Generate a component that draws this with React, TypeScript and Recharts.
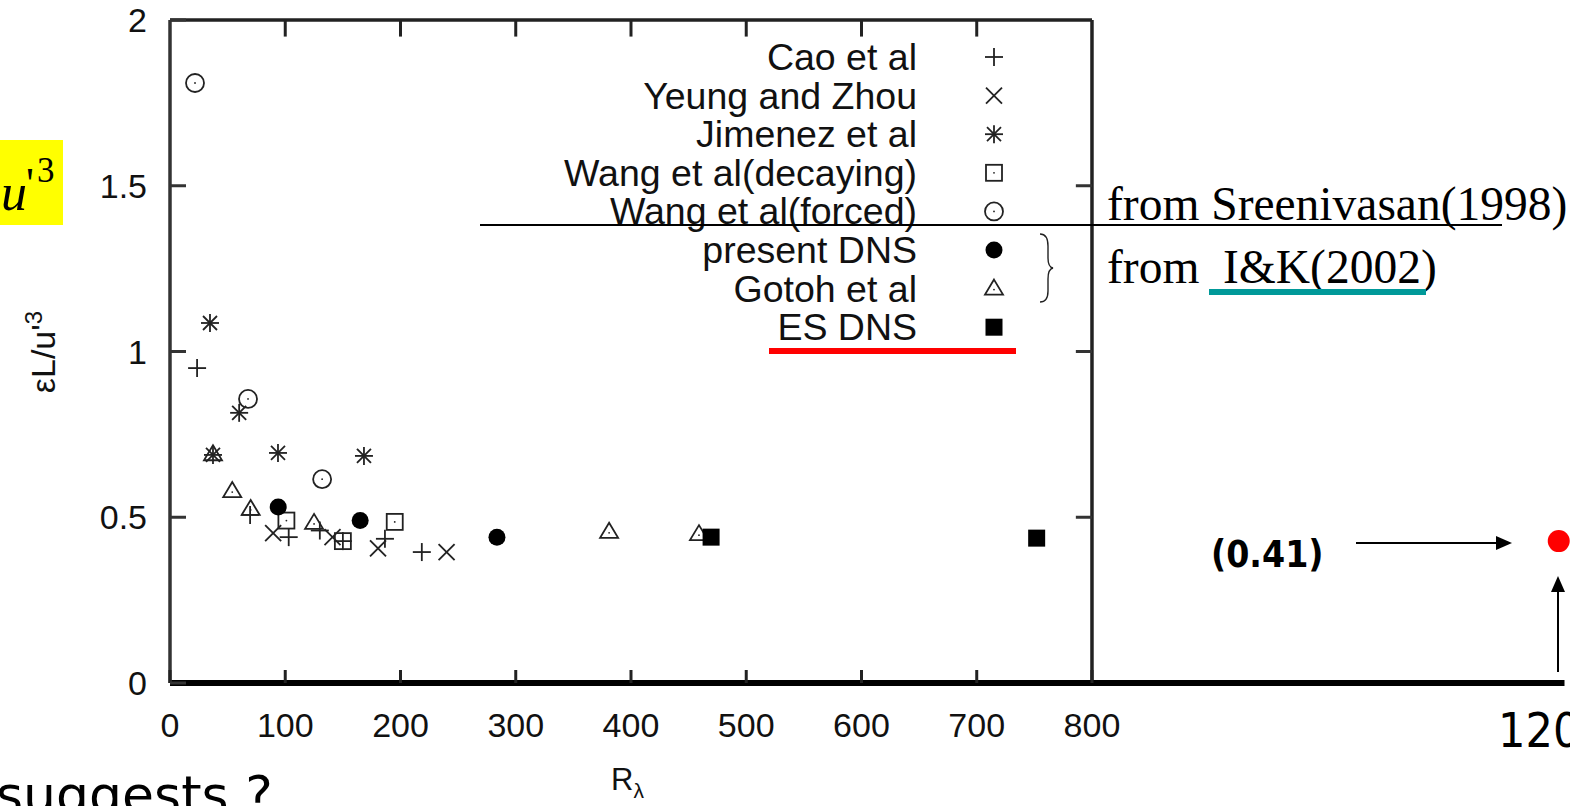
import React from "react";
import { Legend, ReferenceLine, Scatter, ScatterChart, XAxis, YAxis } from "recharts";

const W = 1570;
const H = 806;

const SANS = "'Liberation Sans', Arial, Helvetica, sans-serif";
const SERIF = "'Liberation Serif', 'Times New Roman', serif";
const VERD = "'DejaVu Sans', Verdana, sans-serif";
const COND = "'DejaVu Sans Condensed', 'DejaVu Sans', sans-serif";

// axis ticks
const xTicks = [0, 100, 200, 300, 400, 500, 600, 700, 800, 1200];
const yTicks = [0, 0.5, 1, 1.5, 2];
const topTicks = [100, 200, 300, 400, 500, 600, 700];
const rightTicks = [0.5, 1, 1.5];

// series
const caoX = [23.5, 69.5, 103, 130, 150, 186.5, 218.5];
const caoY = [0.95, 0.507, 0.44, 0.46, 0.428, 0.435, 0.395];

const yeungX = [89.5, 141, 180.5, 240];
const yeungY = [0.452, 0.44, 0.406, 0.395];

const jimenezX = [34.7, 60, 37.3, 93.7, 168.3];
const jimenezY = [1.086, 0.815, 0.688, 0.694, 0.685];

const wangDecX = [101, 150, 195];
const wangDecY = [0.49, 0.428, 0.486];

const wangForX = [21.7, 67.7, 132];
const wangForY = [1.81, 0.857, 0.615];

const presentX = [93.9, 165, 283.7];
const presentY = [0.531, 0.49, 0.44];

const gotohX = [37.3, 54, 70, 125, 381, 459];
const gotohY = [0.69, 0.579, 0.525, 0.483, 0.456, 0.449];

const esX = [469.5, 752];
const esY = [0.44, 0.437];

const earthX = [1205];
const earthY = [0.428];

type Kind = "plus" | "cross" | "star" | "square" | "circle" | "dot" | "triangle" | "block" | "red";

const series: { name: string; kind: Kind; xs: number[]; ys: number[] }[] = [
  { name: "Cao et al", kind: "plus", xs: caoX, ys: caoY },
  { name: "Yeung and Zhou", kind: "cross", xs: yeungX, ys: yeungY },
  { name: "Jimenez et al", kind: "star", xs: jimenezX, ys: jimenezY },
  { name: "Wang et al(decaying)", kind: "square", xs: wangDecX, ys: wangDecY },
  { name: "Wang et al(forced)", kind: "circle", xs: wangForX, ys: wangForY },
  { name: "present DNS", kind: "dot", xs: presentX, ys: presentY },
  { name: "Gotoh et al", kind: "triangle", xs: gotohX, ys: gotohY },
  { name: "ES DNS", kind: "block", xs: esX, ys: esY },
];

const toPoints = (xs: number[], ys: number[]) => xs.map((x, i) => ({ x, y: ys[i] }));

function marker(kind: Kind, cx: number, cy: number) {
  const c = "#222";
  const sw = 1.8;
  switch (kind) {
    case "plus":
      return (
        <g stroke={c} strokeWidth={sw}>
          <line x1={cx - 9} y1={cy} x2={cx + 9} y2={cy} />
          <line x1={cx} y1={cy - 9} x2={cx} y2={cy + 9} />
        </g>
      );
    case "cross":
      return (
        <g stroke={c} strokeWidth={sw}>
          <line x1={cx - 8} y1={cy - 8} x2={cx + 8} y2={cy + 8} />
          <line x1={cx - 8} y1={cy + 8} x2={cx + 8} y2={cy - 8} />
        </g>
      );
    case "star":
      return (
        <g stroke={c} strokeWidth={sw}>
          <line x1={cx - 9} y1={cy} x2={cx + 9} y2={cy} />
          <line x1={cx} y1={cy - 9} x2={cx} y2={cy + 9} />
          <line x1={cx - 7} y1={cy - 7} x2={cx + 7} y2={cy + 7} />
          <line x1={cx - 7} y1={cy + 7} x2={cx + 7} y2={cy - 7} />
        </g>
      );
    case "square":
      return (
        <g>
          <rect x={cx - 8} y={cy - 8} width={16} height={16} fill="none" stroke={c} strokeWidth={sw} />
          <circle cx={cx} cy={cy} r={0.9} fill={c} />
        </g>
      );
    case "circle":
      return (
        <g>
          <circle cx={cx} cy={cy} r={9} fill="none" stroke={c} strokeWidth={sw} />
          <circle cx={cx} cy={cy} r={0.9} fill={c} />
        </g>
      );
    case "dot":
      return <circle cx={cx} cy={cy} r={8.5} fill="#000" />;
    case "triangle":
      return (
        <g>
          <polygon
            points={`${cx},${cy - 9} ${cx + 9},${cy + 6} ${cx - 9},${cy + 6}`}
            fill="none"
            stroke={c}
            strokeWidth={sw}
          />
          <circle cx={cx} cy={cy + 1} r={0.9} fill={c} />
        </g>
      );
    case "block":
      return <rect x={cx - 8.5} y={cy - 8.5} width={17} height={17} fill="#000" />;
    case "red":
      return <circle cx={cx} cy={cy} r={11} fill="#ff0000" />;
  }
}

const fmtY = (v: number) => String(v);

const YTick = (props: any) => {
  const { x, y, payload } = props;
  return (
    <g>
      <line x1={x} y1={y} x2={x + 16} y2={y} stroke="#333" strokeWidth={3} />
      <text x={x - 23} y={y + 12} textAnchor="end" fontSize={34} fontFamily={SANS} fill="#111">
        {fmtY(payload.value)}
      </text>
    </g>
  );
};

const XTick = (props: any) => {
  const { x, y, payload } = props;
  const v = payload.value as number;
  if (v > 800) {
    return (
      <text x={x} y={y + 64} textAnchor="middle" fontSize={48} fontFamily={COND} fill="#000">
        {v}
      </text>
    );
  }
  return (
    <g>
      <line x1={x} y1={y} x2={x} y2={y - 13} stroke="#222" strokeWidth={3} />
      <text x={x} y={y + 54} textAnchor="middle" fontSize={34} fontFamily={SANS} fill="#111">
        {v}
      </text>
    </g>
  );
};

const renderLegend = (props: any) => {
  const names = new Set(((props.payload || []) as any[]).map((e) => e.value));
  const shown = series.filter((s) => names.has(s.name));
  return (
    <svg width={W} height={H} style={{ position: "absolute", left: 0, top: 0 }}>
      {shown.map((s, i) => {
        const cy = 57 + i * 38.6;
        return (
          <g key={s.name}>
            <text x={917} y={cy + 13} textAnchor="end" fontSize={37.5} fontFamily={SANS} fill="#111">
              {s.name}
            </text>
            {marker(s.kind, 994, cy)}
          </g>
        );
      })}
    </svg>
  );
};

function Overlay() {
  return (
    <svg
      width={W}
      height={H}
      style={{ position: "absolute", left: 0, top: 0, pointerEvents: "none" }}
    >
      {/* yellow box, left edge cut off */}
      <rect x={0} y={140} width={63} height={85} fill="#ffff00" />
      <text x={1} y={210} fontSize={52} fontStyle="italic" fontFamily={SERIF} fill="#000">
        u
      </text>
      <text x={26} y={198} fontSize={44} fontFamily={SERIF} fill="#000">
        '
      </text>
      <text x={37} y={182} fontSize={35} fontFamily={SERIF} fill="#000">
        3
      </text>

      {/* axis titles */}
      <text
        x={55}
        y={352}
        transform="rotate(-90 55 352)"
        textAnchor="middle"
        fontSize={34}
        fontFamily={SANS}
        fill="#111"
      >
        εL/u'
        <tspan fontSize={24} dy={-13}>
          3
        </tspan>
      </text>
      <text x={611} y={790} fontSize={31} fontFamily={SANS} fill="#111">
        R
        <tspan fontSize={21} dy={8}>
          λ
        </tspan>
      </text>

      {/* source notes */}
      <line x1={480} y1={225} x2={1502} y2={225} stroke="#000" strokeWidth={2} />
      <text x={1107} y={220} fontSize={47.5} fontFamily={SERIF} fill="#000">
        from Sreenivasan(1998)
      </text>
      <text x={1107} y={283} fontSize={47.5} fontFamily={SERIF} fill="#000">
        from
      </text>
      <text x={1223} y={283} fontSize={47.5} fontFamily={SERIF} fill="#000">
        I&amp;K(2002)
      </text>
      <rect x={1209} y={289} width={217} height={6} fill="#009999" />
      <path
        d="M1040,234 Q1048,234 1048,246 L1048,258 Q1048,267 1053,268 Q1048,269 1048,279 L1048,291 Q1048,302 1040,302"
        fill="none"
        stroke="#222"
        strokeWidth={1.4}
      />
      <rect x={769} y={348} width={247} height={6} fill="#ff0000" />

      {/* value annotation */}
      <text x={1211} y={567} fontSize={37} fontWeight="bold" fontFamily={COND} fill="#000">
        (0.41)
      </text>
      <line x1={1356} y1={543} x2={1498} y2={543} stroke="#000" strokeWidth={2} />
      <polygon points="1496,536 1512,543 1496,550" fill="#000" />
      <line x1={1558} y1={672} x2={1558} y2={590} stroke="#000" strokeWidth={2} />
      <polygon points="1551,592 1558,576 1565,592" fill="#000" />

      <text x={-4} y={813} fontSize={52} fontFamily={VERD} fill="#000">
        suggests ?
      </text>
    </svg>
  );
}

export default function App() {
  return (
    <div style={{ position: "absolute", left: 0, top: 0, width: W, height: H, background: "#fff" }}>
      <ScatterChart width={W} height={H} margin={{ top: 20, right: 5.5, bottom: 93, left: 110 }}>
        <XAxis
          type="number"
          dataKey="x"
          domain={[0, 1210]}
          ticks={xTicks}
          interval={0}
          height={30}
          tickSize={0}
          tickMargin={0}
          tickLine={false}
          axisLine={{ stroke: "#000", strokeWidth: 6 }}
          tick={<XTick />}
        />
        <YAxis
          type="number"
          dataKey="y"
          domain={[0, 2]}
          ticks={yTicks}
          interval={0}
          width={60}
          tickSize={0}
          tickMargin={0}
          tickLine={false}
          axisLine={{ stroke: "#333", strokeWidth: 3.5 }}
          tick={<YTick />}
        />
        <ReferenceLine
          segment={[{ x: 0, y: 2 }, { x: 800, y: 2 }]}
          stroke="#222"
          strokeWidth={3.5}
        />
        <ReferenceLine
          segment={[{ x: 800, y: 0 }, { x: 800, y: 2 }]}
          stroke="#222"
          strokeWidth={3.5}
        />
        {topTicks.map((v) => (
          <ReferenceLine
            key={`t${v}`}
            segment={[{ x: v, y: 2 }, { x: v, y: 1.95 }]}
            stroke="#222"
            strokeWidth={3}
          />
        ))}
        {rightTicks.map((v) => (
          <ReferenceLine
            key={`r${v}`}
            segment={[{ x: 786, y: v }, { x: 800, y: v }]}
            stroke="#333"
            strokeWidth={3}
          />
        ))}
        {series.map((s) => (
          <Scatter
            key={s.name}
            name={s.name}
            data={toPoints(s.xs, s.ys)}
            isAnimationActive={false}
            shape={(p: any) => marker(s.kind, p.cx, p.cy)}
          />
        ))}
        <Scatter
          name="1200"
          data={toPoints(earthX, earthY)}
          legendType="none"
          isAnimationActive={false}
          shape={(p: any) => marker("red", p.cx, p.cy)}
        />
        <Legend
          layout="vertical"
          align="center"
          verticalAlign="middle"
          wrapperStyle={{ left: 0, top: 0, width: W, height: H, pointerEvents: "none" }}
          content={renderLegend}
        />
      </ScatterChart>
      <Overlay />
    </div>
  );
}
